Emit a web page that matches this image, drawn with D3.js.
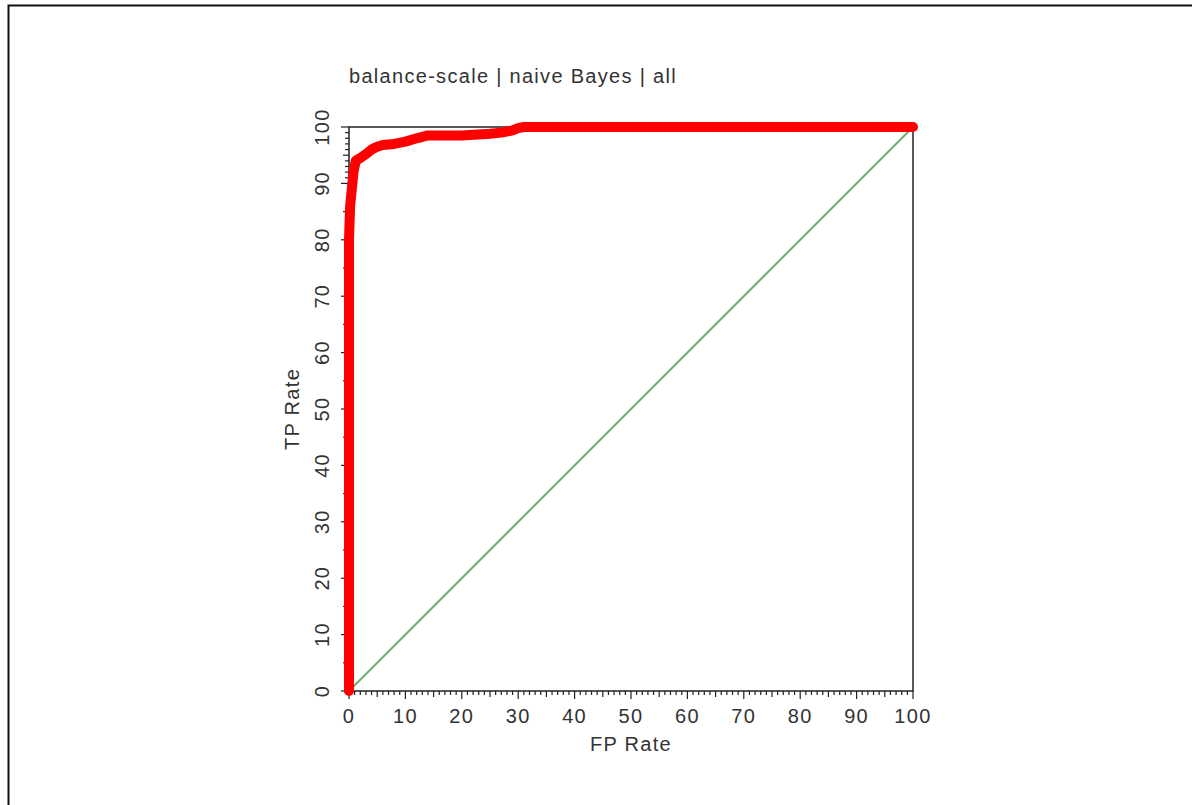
<!DOCTYPE html>
<html>
<head>
<meta charset="utf-8">
<script src="https://cdn.jsdelivr.net/npm/d3@7"></script>
<style>
  body { margin: 0; background: #fff; }
  text { font-family: "Liberation Sans", Arial, sans-serif; fill: #333; letter-spacing: 1.3px; }
</style>
</head>
<body>
<svg width="1192" height="805"></svg>
<script>
// ROC curve points (percent)
const fpRate = [0, 0, 0.2, 0.5, 0.8, 1.2, 2, 3, 4, 5, 6, 8, 10, 12, 14, 20, 25, 27, 29, 30, 31, 100];
const tpRate = [0, 80, 86, 89, 92, 94, 94.5, 95.2, 96, 96.5, 96.8, 97, 97.4, 98, 98.5, 98.5, 98.8, 99, 99.4, 99.8, 100, 100];
const majorTicks = [0, 10, 20, 30, 40, 50, 60, 70, 80, 90, 100];
const title = "balance-scale | naive Bayes | all";

const svg = d3.select("svg");

// outer frame
svg.append("rect").attr("x", 8.5).attr("y", 5.5).attr("width", 1300).attr("height", 900)
  .attr("fill", "none").attr("stroke", "#111").attr("stroke-width", 2);

const x = d3.scaleLinear().domain([0, 100]).range([349, 913]);
const y = d3.scaleLinear().domain([0, 100]).range([691, 127]);

// plot frame
svg.append("rect").attr("x", x(0)).attr("y", y(100))
  .attr("width", x(100) - x(0)).attr("height", y(0) - y(100))
  .attr("fill", "none").attr("stroke", "#222").attr("stroke-width", 1.5);

// x axis ticks
const xTicks = d3.range(0, 101);
svg.append("g").selectAll("line").data(xTicks).enter().append("line")
  .attr("x1", d => x(d)).attr("x2", d => x(d))
  .attr("y1", y(0))
  .attr("y2", d => y(0) + (d % 10 === 0 ? 8 : d % 5 === 0 ? 6 : 4))
  .attr("stroke", "#222").attr("stroke-width", 1.2);

svg.append("g").selectAll("text").data(majorTicks).enter().append("text")
  .attr("x", d => x(d)).attr("y", 723)
  .attr("text-anchor", "middle").attr("font-size", 20)
  .text(d => d);

// y axis ticks
const yTicks = d3.range(0, 101).filter(d => d % 5 === 0 || d > 90);
svg.append("g").selectAll("line").data(yTicks).enter().append("line")
  .attr("y1", d => y(d)).attr("y2", d => y(d))
  .attr("x1", x(0))
  .attr("x2", d => x(0) - (d % 10 === 0 ? 8 : d % 5 === 0 ? 6 : 4))
  .attr("stroke", "#222").attr("stroke-width", 1.2);

svg.append("g").selectAll("text").data(majorTicks).enter().append("text")
  .attr("transform", d => `translate(329,${y(d)}) rotate(-90)`)
  .attr("text-anchor", "middle").attr("font-size", 20)
  .text(d => d);

// axis labels
svg.append("text").attr("x", (x(0) + x(100)) / 2).attr("y", 751)
  .attr("text-anchor", "middle").attr("font-size", 20).text("FP Rate");
svg.append("text").attr("transform", `translate(299,${(y(0) + y(100)) / 2}) rotate(-90)`)
  .attr("text-anchor", "middle").attr("font-size", 20).text("TP Rate");

// title
svg.append("text").attr("x", x(0)).attr("y", 83)
  .attr("font-size", 20).text(title);

// diagonal
svg.append("line").attr("x1", x(0)).attr("y1", y(0)).attr("x2", x(100)).attr("y2", y(100))
  .attr("stroke", "#6fae6f").attr("stroke-width", 2);

// ROC curve
const pts = fpRate.map((d, i) => [d, tpRate[i]]);
svg.append("path").datum(pts)
  .attr("d", d3.line().x(d => x(d[0])).y(d => y(d[1])))
  .attr("fill", "none").attr("stroke", "#ff0000").attr("stroke-width", 10)
  .attr("stroke-linecap", "round").attr("stroke-linejoin", "round");
</script>
</body>
</html>
